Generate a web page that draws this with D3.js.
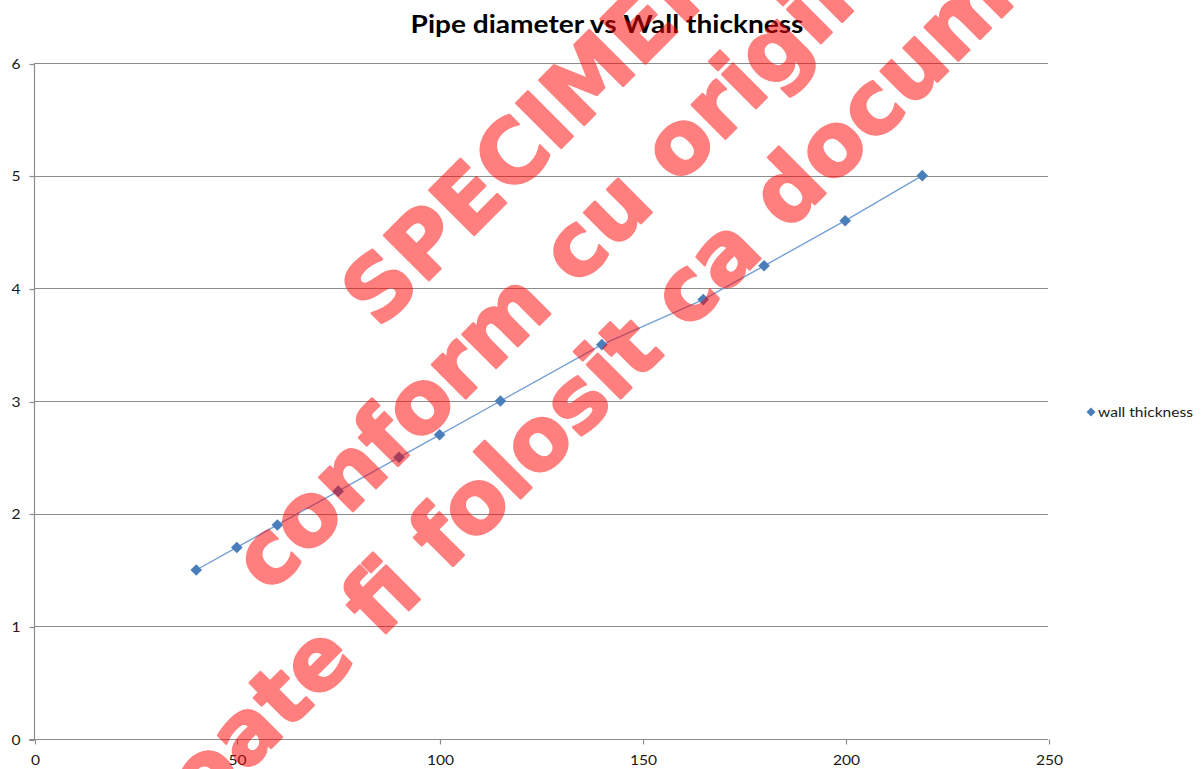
<!DOCTYPE html>
<html>
<head>
<meta charset="utf-8">
<script src="https://cdn.jsdelivr.net/npm/d3@7"></script>
<style>
  html, body { margin: 0; padding: 0; background: #fff; }
  svg { display: block; }
</style>
</head>
<body>
<svg id="chart" width="1203" height="769"></svg>
<script>
const title = "Pipe diameter vs Wall thickness";
const seriesName = "wall thickness";
const diameters = [40, 50, 60, 75, 90, 100, 115, 140, 165, 180, 200, 219];
const thickness = [1.5, 1.7, 1.9, 2.2, 2.5, 2.7, 3.0, 3.5, 3.9, 4.2, 4.6, 5.0];
const xTicks = [0, 50, 100, 150, 200, 250];
const yTicks = [0, 1, 2, 3, 4, 5, 6];
const watermarkLines = ["SPECIMEN", "conform cu originalul", "nu poate fi folosit ca document"];

const svg = d3.select("#chart");
const m = { left: 34, right: 1048, top: 63, bottom: 739 };

const x = d3.scaleLinear().domain([0, 250]).range([m.left, m.right]);
const y = d3.scaleLinear().domain([0, 6]).range([m.bottom, m.top]);

const gridColor = "#8c8c8c";
const font = "Lato, 'Open Sans', sans-serif";
const sx = 1.2; // horizontal stretch of the original text

// gridlines
svg.append("g").selectAll("line").data(yTicks.filter(d => d > 0)).join("line")
  .attr("x1", m.left).attr("x2", m.right)
  .attr("y1", d => Math.round(y(d)) + 0.5).attr("y2", d => Math.round(y(d)) + 0.5)
  .attr("stroke", gridColor).attr("stroke-width", 1.2);

// y axis
const yAxis = svg.append("g").attr("transform", `translate(${m.left + 0.5},0)`)
  .call(d3.axisLeft(y).tickValues(yTicks).tickSize(5).tickFormat(d3.format("d")));
yAxis.select(".domain").attr("stroke", gridColor).attr("stroke-width", 1.2).attr("d", `M0,${m.top}V${m.bottom}`);
yAxis.selectAll(".tick line").attr("stroke", gridColor).attr("stroke-width", 1.2);
yAxis.selectAll(".tick").each(function() {
  const t = d3.select(this);
  const ty = +t.attr("transform").match(/,([-\d.]+)\)/)[1];
  t.attr("transform", `translate(0,${Math.round(ty) + 0.5})`);
});
yAxis.selectAll("text").attr("x", -14 / sx).attr("dy", "0.35em")
  .attr("transform", `scale(${sx},1)`)
  .attr("font-family", font).attr("font-size", 13).attr("fill", "#1a1a1a");

// x axis
const xAxis = svg.append("g").attr("transform", `translate(0,${m.bottom + 0.5})`)
  .call(d3.axisBottom(x).tickValues(xTicks).tickSize(5).tickFormat(d3.format("d")));
xAxis.select(".domain").attr("stroke", gridColor).attr("stroke-width", 1.2).attr("d", `M${m.left - 5},0H${m.right}`);
xAxis.selectAll(".tick line").attr("stroke", gridColor).attr("stroke-width", 1.2);
xAxis.selectAll("text").attr("y", 26).attr("dy", 0)
  .attr("transform", `scale(${sx},1)`)
  .attr("font-family", font).attr("font-size", 13).attr("fill", "#1a1a1a");
xAxis.selectAll(".tick").each(function() {
  const t = d3.select(this);
  const tx = +t.attr("transform").match(/\(([-\d.]+),/)[1];
  t.attr("transform", `translate(${Math.round(tx) + 0.5},0)`);
});

// title
svg.append("text").attr("transform", `translate(607,33) scale(1.17,1)`).attr("text-anchor", "middle")
  .attr("font-family", font).attr("font-weight", "bold").attr("font-size", 24)
  .attr("fill", "#000").text(title);

// series
const pts = diameters.map((d, i) => [d, thickness[i]]);
svg.append("path").datum(pts)
  .attr("d", d3.line().x(d => x(d[0])).y(d => y(d[1])))
  .attr("fill", "none").attr("stroke", "#75a0d4").attr("stroke-width", 1.4);

const diamond = "M0,-5.8L5.8,0L0,5.8L-5.8,0Z";
svg.append("g").selectAll("path").data(pts).join("path")
  .attr("transform", d => `translate(${x(d[0])},${y(d[1])})`)
  .attr("d", diamond).attr("fill", "#4a7ebb");

// legend
svg.append("path").attr("transform", "translate(1091,412)").attr("d", "M0,-4.5L4.5,0L0,4.5L-4.5,0Z").attr("fill", "#4a7ebb");
svg.append("text").attr("transform", `translate(1098,417) scale(${sx},1)`).attr("font-family", font).attr("font-size", 13)
  .attr("fill", "#1a1a1a").text(seriesName);

// watermark
const wm = svg.append("g").attr("opacity", 0.5);
const wmPos = [[379, 330], [269, 595], [50, 969]];
wm.selectAll("text").data(watermarkLines).join("text")
  .attr("transform", (d, i) => `translate(${wmPos[i][0]},${wmPos[i][1]}) rotate(-45)`)
  .attr("text-anchor", "start")
  .attr("font-family", "'DejaVu Sans', sans-serif").attr("font-weight", "bold").attr("font-size", 87)
  .attr("fill", "#ff0000").attr("stroke", "#ff0000").attr("stroke-width", 2.5).attr("stroke-linejoin", "round")
  .text(d => d);
</script>
</body>
</html>
